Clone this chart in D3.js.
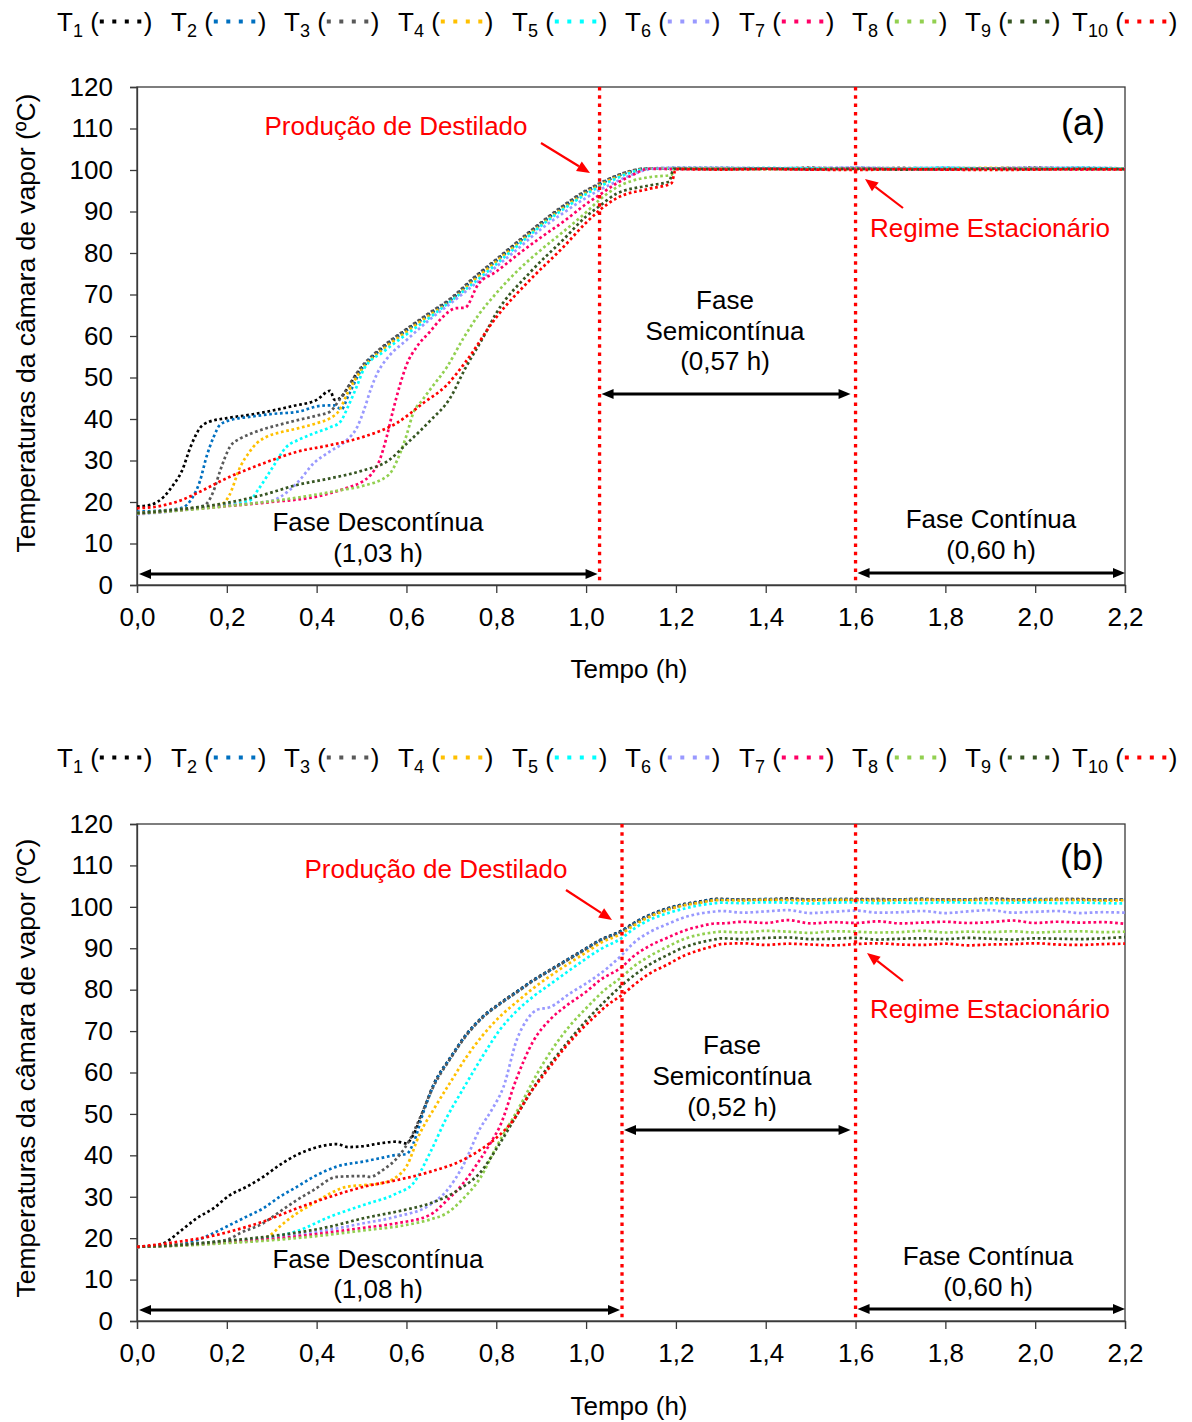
<!DOCTYPE html>
<html>
<head>
<meta charset="utf-8">
<script src="https://cdn.jsdelivr.net/npm/d3@7"></script>
<style>
  body { margin: 0; background: #fff; }
  text { font-family: "Liberation Sans", Arial, sans-serif; fill: #000; }
</style>
</head>
<body>
<svg id="chart" width="1192" height="1422"></svg>
<script>
// ---------- series identity ----------
const seriesSubs = ["1", "2", "3", "4", "5", "6", "7", "8", "9", "10"];
const seriesColors = ["#000000", "#0070C0", "#595959", "#FFC000", "#00FFFF",
                      "#9999FF", "#FF0066", "#92D050", "#375623", "#FF0000"];

// ---------- axis ticks ----------
const xTicks = [0, 0.2, 0.4, 0.6, 0.8, 1.0, 1.2, 1.4, 1.6, 1.8, 2.0, 2.2];
const yTicks = [0, 10, 20, 30, 40, 50, 60, 70, 80, 90, 100, 110, 120];

// ---------- run (a): heating ramp [time (h), temperature (ºC)] ----------
const a_T1 = [[0,18.9],[0.03,19.3],[0.06,21.3],[0.08,24],[0.1,27.5],[0.12,33.5],[0.14,37.8],[0.16,39.3],[0.2,40.2],[0.25,41],[0.3,42],[0.35,43.2],[0.4,44.6],[0.43,46.8],[0.44,44.6],[0.452,45],[0.465,46.8],[0.49,51],[0.52,54.5],[0.55,57.5],[0.6,61.5],[0.65,65.3],[0.7,69],[0.75,73.9],[0.8,78.3],[0.85,82.8],[0.9,87.2],[0.95,91.3],[1.0,94.9],[1.03,96.6],[1.06,98.2],[1.1,99.7],[1.13,100.3],[1.2,100.4]];
const a_T2 = [[0,17.7],[0.05,17.9],[0.1,18.6],[0.12,20.5],[0.14,25],[0.155,31],[0.17,35.5],[0.185,38.6],[0.21,39.8],[0.25,40.5],[0.3,41.2],[0.36,41.8],[0.41,43.2],[0.44,43.3],[0.455,42.3],[0.47,45.5],[0.5,52],[0.55,57.3],[0.6,61.3],[0.65,65.1],[0.7,68.8],[0.75,73.7],[0.8,78.1],[0.85,82.6],[0.9,87],[0.95,91.1],[1.0,94.7],[1.03,96.5],[1.06,98.1],[1.1,99.6],[1.13,100.3],[1.2,100.5]];
const a_T3 = [[0,17.3],[0.05,17.6],[0.1,18.2],[0.15,19.2],[0.17,22.5],[0.185,27.5],[0.207,33.3],[0.23,35.3],[0.25,36.3],[0.28,37.5],[0.32,38.7],[0.36,39.8],[0.4,40.8],[0.43,41.8],[0.45,44.5],[0.5,52.6],[0.55,57.7],[0.6,61.7],[0.65,65.5],[0.7,69.2],[0.75,74.1],[0.8,78.5],[0.85,83],[0.9,87.4],[0.95,91.5],[1.0,95.1],[1.03,96.8],[1.06,98.3],[1.1,99.8],[1.13,100.3],[1.2,100.3]];
const a_T4 = [[0,17.3],[0.1,18.3],[0.19,19.5],[0.205,21.5],[0.23,28.5],[0.25,32],[0.266,34.1],[0.29,35.8],[0.32,36.8],[0.36,37.8],[0.4,39],[0.43,40.2],[0.45,42],[0.47,46.5],[0.5,51.8],[0.55,57],[0.6,61],[0.65,64.9],[0.7,68.5],[0.75,73.4],[0.8,77.9],[0.85,82.4],[0.9,86.8],[0.95,90.9],[1.0,94.5],[1.03,96.3],[1.06,97.9],[1.1,99.5],[1.14,100.3],[1.2,100.4]];
const a_T5 = [[0,17.2],[0.1,18.2],[0.2,19.3],[0.25,20.3],[0.27,23],[0.3,28],[0.333,33.3],[0.36,35],[0.393,36.5],[0.43,38],[0.452,39.2],[0.47,43],[0.49,48],[0.505,52],[0.55,56.3],[0.6,60.4],[0.65,64.3],[0.7,68.5],[0.75,72.8],[0.8,77.3],[0.85,82],[0.9,86.6],[0.95,90.6],[1.0,94.2],[1.03,96],[1.06,97.6],[1.1,99.4],[1.14,100.3],[1.2,100.3]];
const a_T6 = [[0,17],[0.1,18],[0.2,19.2],[0.3,20.3],[0.32,21.3],[0.36,25],[0.393,29.3],[0.43,32.2],[0.467,34.9],[0.49,38],[0.505,42],[0.52,47],[0.535,51],[0.56,55],[0.6,59],[0.65,63.8],[0.7,68],[0.75,72.3],[0.8,76.7],[0.85,81.2],[0.9,85.8],[0.95,89.7],[1.0,93.3],[1.03,95.2],[1.06,96.8],[1.1,98.8],[1.15,100.3],[1.2,100.5]];
const a_T7 = [[0,17.2],[0.1,18.1],[0.2,19],[0.3,20],[0.4,21.3],[0.43,22.1],[0.47,23.5],[0.5,24.8],[0.52,26.5],[0.54,30],[0.556,35.7],[0.57,42],[0.585,48],[0.6,53],[0.623,57.4],[0.652,61],[0.68,64.5],[0.71,66.7],[0.73,66.8],[0.76,72.5],[0.8,75.5],[0.85,79.8],[0.9,83.8],[0.95,87.6],[1.0,91.8],[1.03,94],[1.068,96.8],[1.1,98.6],[1.14,100.3],[1.2,100.2]];
const a_T8 = [[0,17.2],[0.1,18],[0.2,19],[0.3,20.2],[0.4,21.8],[0.45,22.8],[0.5,23.8],[0.56,26.5],[0.585,31.5],[0.6,36],[0.615,41.4],[0.635,44.5],[0.652,47],[0.69,52.5],[0.727,59.5],[0.76,65],[0.8,70.3],[0.85,76],[0.9,80.8],[0.95,85.2],[1.0,89.8],[1.03,92.8],[1.068,95.8],[1.1,97.3],[1.142,98.3],[1.19,98.8],[1.198,100.3]];
const a_T9 = [[0,17.3],[0.1,18.3],[0.2,19.8],[0.28,21.7],[0.356,24.1],[0.43,25.7],[0.5,27.5],[0.56,30],[0.6,34],[0.652,39.5],[0.697,45],[0.73,52],[0.77,59.5],[0.8,65.5],[0.875,75.3],[0.95,83.3],[1.0,88.8],[1.03,91.3],[1.068,94.3],[1.142,96.3],[1.185,97.2],[1.195,100.3]];
const a_T10 = [[0,18.5],[0.05,19],[0.1,20.5],[0.133,22.1],[0.207,26.1],[0.281,29.3],[0.356,32.1],[0.43,33.7],[0.504,35.7],[0.578,39],[0.637,43.8],[0.69,48.2],[0.73,53.5],[0.8,64.5],[0.875,73.5],[0.95,81.5],[1.0,87.3],[1.03,90.3],[1.068,93.2],[1.142,95.5],[1.19,96.8],[1.2,100.2]];

// ---------- run (a): steady readings ----------
const plateauTimesA = [1.3, 1.4, 1.5, 1.6, 1.7, 1.8, 1.9, 2.0, 2.1, 2.2];
const ap_T1 = [100.4,100.3,100.5,100.3,100.4,100.3,100.4,100.5,100.3,100.4];
const ap_T2 = [100.5,100.4,100.3,100.5,100.4,100.5,100.3,100.4,100.5,100.4];
const ap_T3 = [100.3,100.4,100.4,100.3,100.5,100.3,100.4,100.3,100.4,100.3];
const ap_T4 = [100.4,100.3,100.4,100.4,100.3,100.4,100.5,100.3,100.4,100.4];
const ap_T5 = [100.3,100.5,100.4,100.3,100.4,100.5,100.4,100.3,100.5,100.3];
const ap_T6 = [100.5,100.4,100.5,100.6,100.4,100.5,100.4,100.6,100.5,100.4];
const ap_T7 = [100.2,100.3,100.1,100.3,100.2,100.1,100.3,100.2,100.1,100.2];
const ap_T8 = [100.3,100.2,100.3,100.2,100.3,100.3,100.2,100.3,100.2,100.3];
const ap_T9 = [100.2,100.3,100.2,100.3,100.1,100.2,100.3,100.2,100.3,100.2];
const ap_T10 = [100.1,100.2,100.1,100.0,100.2,100.1,100.0,100.1,100.2,100.1];

// ---------- run (b): heating ramp [time (h), temperature (ºC)] ----------
const b_T1 = [[0,17.9],[0.03,18],[0.06,18.8],[0.1,22],[0.133,24.8],[0.17,27.2],[0.207,30.4],[0.244,32.4],[0.281,34.8],[0.318,37.7],[0.356,40.1],[0.393,41.7],[0.445,42.7],[0.47,42],[0.504,42.2],[0.541,42.9],[0.578,43.3],[0.6,42.9],[0.615,44.9],[0.638,50.9],[0.66,57],[0.697,63.5],[0.734,69.3],[0.77,73.5],[0.808,76.7],[0.845,79.5],[0.882,82.3],[0.92,84.8],[0.957,87.2],[1.0,90],[1.031,92],[1.08,94.3],[1.105,96],[1.14,98],[1.18,99.6],[1.22,100.7],[1.254,101.3],[1.29,101.9]];
const b_T2 = [[0,17.9],[0.1,18.6],[0.15,20.2],[0.17,21.2],[0.207,23.2],[0.244,25.2],[0.281,27.2],[0.318,30],[0.356,32.4],[0.393,34.8],[0.445,37.3],[0.504,38.5],[0.541,39.3],[0.578,40.1],[0.6,40.3],[0.615,42.8],[0.638,50.5],[0.66,56.8],[0.697,63.4],[0.734,69.2],[0.77,73.4],[0.808,76.6],[0.845,79.4],[0.882,82.2],[0.92,84.7],[0.957,87.1],[1.0,89.9],[1.031,91.9],[1.08,94.2],[1.105,95.9],[1.14,97.9],[1.18,99.5],[1.22,100.6],[1.254,101.2],[1.29,101.8]];
const b_T3 = [[0,17.9],[0.1,18.5],[0.2,19.6],[0.229,21.2],[0.281,23.6],[0.318,26.4],[0.356,29.2],[0.393,31.6],[0.445,34.8],[0.504,35],[0.519,34.8],[0.548,36.5],[0.585,40.1],[0.607,43.7],[0.63,49],[0.66,56.6],[0.697,63.2],[0.734,69],[0.77,73.3],[0.808,76.5],[0.845,79.3],[0.882,82.1],[0.92,84.6],[0.957,87],[1.0,89.8],[1.031,91.8],[1.08,94.1],[1.105,95.8],[1.14,97.8],[1.18,99.4],[1.22,100.5],[1.254,101.1],[1.29,101.7]];
const b_T4 = [[0,17.9],[0.1,18.4],[0.2,19.2],[0.281,19.9],[0.3,21],[0.318,22.8],[0.356,26],[0.393,28.4],[0.43,30.8],[0.467,32.4],[0.504,32.8],[0.541,33.2],[0.578,34.8],[0.6,37.3],[0.63,45.3],[0.66,51],[0.697,57.5],[0.734,63.8],[0.77,69],[0.808,73.5],[0.845,77],[0.882,80.3],[0.92,83.3],[0.957,86],[1.0,89],[1.031,91.2],[1.08,93.6],[1.105,95.4],[1.14,97.5],[1.18,99.2],[1.22,100.4],[1.254,101],[1.29,101.6]];
const b_T5 = [[0,17.9],[0.1,18.4],[0.2,19.2],[0.3,20.2],[0.356,21.7],[0.43,25.2],[0.504,28],[0.578,30.8],[0.615,33.2],[0.652,40.5],[0.689,49],[0.726,56],[0.77,64],[0.808,70.3],[0.845,74.8],[0.882,78.3],[0.92,81.3],[0.957,84.2],[1.0,87.5],[1.031,89.7],[1.08,92.5],[1.105,94.6],[1.14,96.8],[1.18,98.4],[1.22,99.6],[1.254,100.4],[1.29,100.9]];
const b_T6 = [[0,17.9],[0.1,18.3],[0.2,19],[0.3,20],[0.4,21.5],[0.504,23.6],[0.578,25.2],[0.652,28],[0.69,31.5],[0.726,37.5],[0.764,46.5],[0.79,51],[0.816,56.5],[0.846,68],[0.87,73],[0.89,75.1],[0.92,75.8],[0.964,79.1],[1.0,81.5],[1.045,85],[1.08,88.4],[1.105,91.2],[1.14,93.8],[1.18,95.8],[1.22,97.5],[1.254,98.4],[1.29,98.9]];
const b_T7 = [[0,17.9],[0.1,18.3],[0.2,19],[0.3,19.8],[0.4,21],[0.504,22.5],[0.578,23.6],[0.652,25.6],[0.689,29],[0.726,33.2],[0.764,39],[0.79,43.5],[0.808,47],[0.845,58.5],[0.882,67.5],[0.92,72.8],[0.957,76.2],[1.0,79.5],[1.031,82.3],[1.08,85.5],[1.105,88],[1.14,90.5],[1.18,92.5],[1.22,94.3],[1.254,95.3],[1.29,96]];
const b_T8 = [[0,17.9],[0.1,18.2],[0.2,18.8],[0.3,19.5],[0.4,20.5],[0.5,21.8],[0.6,23.2],[0.652,24.5],[0.689,26],[0.726,29.5],[0.764,34.5],[0.8,42],[0.853,52],[0.89,59.5],[0.927,66],[0.964,71.3],[1.0,75.5],[1.04,79.8],[1.08,83.1],[1.105,85.5],[1.14,88],[1.18,90.3],[1.22,92.3],[1.254,93.3],[1.29,93.9]];
const b_T9 = [[0,17.9],[0.1,18.4],[0.2,19.4],[0.3,20.5],[0.43,22.8],[0.504,24.8],[0.578,26.4],[0.652,28.4],[0.689,30],[0.726,32.4],[0.764,35.8],[0.8,41.5],[0.85,50.5],[0.89,57.5],[0.927,63],[0.964,68],[1.0,72.5],[1.04,77],[1.08,81.1],[1.105,83.3],[1.14,86],[1.18,88.3],[1.22,90.3],[1.254,91.4],[1.29,92.2]];
const b_T10 = [[0,17.9],[0.096,19.2],[0.17,20.6],[0.207,21.6],[0.281,24],[0.356,27.2],[0.43,30],[0.504,32.4],[0.578,34],[0.652,36],[0.726,38.9],[0.764,41.3],[0.801,44.3],[0.838,48.5],[0.875,55],[0.912,60.3],[0.949,65.5],[0.986,70],[1.024,74],[1.05,76.5],[1.08,78.7],[1.105,81],[1.14,83.8],[1.18,86],[1.22,88.3],[1.254,89.6],[1.29,90.7]];

// ---------- run (b): steady readings ----------
const plateauTimesB = [1.3,1.35,1.4,1.45,1.5,1.55,1.6,1.65,1.7,1.75,1.8,1.85,1.9,1.95,2.0,2.05,2.1,2.15,2.2];
const bp_T1 = [101.9,101.7,101.8,102.0,101.7,101.8,101.9,101.6,101.8,101.9,101.7,101.8,102.0,101.8,101.7,101.9,101.8,101.7,101.8];
const bp_T2 = [101.8,101.7,101.9,101.8,101.7,101.9,101.8,101.7,101.8,101.9,101.7,101.8,101.8,101.7,101.9,101.8,101.7,101.8,101.7];
const bp_T3 = [101.7,101.8,101.7,101.9,101.8,101.6,101.8,101.9,101.7,101.8,101.8,101.7,101.9,101.8,101.6,101.8,101.9,101.7,101.8];
const bp_T4 = [101.6,101.5,101.7,101.6,101.5,101.7,101.6,101.5,101.6,101.7,101.5,101.6,101.7,101.5,101.6,101.7,101.6,101.5,101.6];
const bp_T5 = [101.0,100.9,101.1,101.0,100.8,101.0,101.1,100.9,101.0,100.9,101.1,101.0,100.9,101.0,101.1,100.9,101.0,100.9,100.8];
const bp_T6 = [99.0,98.6,98.9,99.2,98.5,98.8,99.1,98.6,98.7,99.0,98.5,98.9,99.2,98.6,98.8,99.0,98.5,98.7,98.6];
const bp_T7 = [96.0,96.4,96.1,96.8,96.0,96.3,96.1,96.5,96.0,96.2,96.4,96.1,96.3,96.7,96.1,96.4,96.2,96.3,95.9];
const bp_T8 = [94.0,93.8,94.2,94.0,93.7,94.1,94.0,93.8,93.9,94.2,93.8,94.0,93.9,94.1,93.8,94.0,94.1,93.9,94.0];
const bp_T9 = [92.4,92.2,92.5,92.6,92.2,92.3,92.5,92.1,92.3,92.4,92.2,92.5,92.3,92.1,92.4,92.3,92.2,92.4,92.7];
const bp_T10 = [91.0,91.2,90.8,91.1,90.9,90.7,91.0,91.2,90.9,90.8,91.1,90.7,90.9,91.0,91.2,90.9,90.8,91.0,91.1];

// ---------- phase boundaries (h) and labels ----------
const phaseA = { stop: 1.03, steady: 1.6, desc: "(1,03 h)", semi: "(0,57 h)", cont: "(0,60 h)" };
const phaseB = { stop: 1.08, steady: 1.6, desc: "(1,08 h)", semi: "(0,52 h)", cont: "(0,60 h)" };

// ramp + steady readings joined into one trace per thermocouple
function joinRun(rises, times, steady) {
  return rises.map((rise, i) => rise.concat(times.map((t, k) => [t, steady[i][k]])));
}
const seriesA = joinRun([a_T1, a_T2, a_T3, a_T4, a_T5, a_T6, a_T7, a_T8, a_T9, a_T10], plateauTimesA,
  [ap_T1, ap_T2, ap_T3, ap_T4, ap_T5, ap_T6, ap_T7, ap_T8, ap_T9, ap_T10]);
const seriesB = joinRun([b_T1, b_T2, b_T3, b_T4, b_T5, b_T6, b_T7, b_T8, b_T9, b_T10], plateauTimesB,
  [bp_T1, bp_T2, bp_T3, bp_T4, bp_T5, bp_T6, bp_T7, bp_T8, bp_T9, bp_T10]);

// ---------- layout ----------
const FS = 26;
const panels = [
  { tag: "(a)", series: seriesA, phase: phaseA, top: 87, bottom: 585, legendBase: 31,
    tagPos: [1083, 122], yTitleY: 323, xTitleY: 669,
    prod: { x: 396, y: 126, arrow: [541, 143, 590, 173] },
    regime: { x: 990, y: 228, arrow: [903, 208, 865, 179] },
    semi: { x: 725, ys: [300, 331, 361], arrowY: 394 },
    desc: { x: 378, ys: [522, 553] }, cont: { x: 991, ys: [519, 550] }, arrowY: 574 },
  { tag: "(b)", series: seriesB, phase: phaseB, top: 824, bottom: 1321, legendBase: 767,
    tagPos: [1082, 857], yTitleY: 1068, xTitleY: 1406,
    prod: { x: 436, y: 869, arrow: [566, 890, 612, 920] },
    regime: { x: 990, y: 1009, arrow: [903, 981, 867, 953] },
    semi: { x: 732, ys: [1045, 1076, 1107], arrowY: 1130 },
    desc: { x: 378, ys: [1259, 1289] }, cont: { x: 988, ys: [1256, 1287] }, arrowY: 1310 }
];
const legendXs = [57, 171, 284, 398, 512, 625, 739, 852, 965, 1072];
const plotLeft = 137, plotRight = 1125;

const svg = d3.select("#chart");
const fmtX = d => d3.format(".1f")(d).replace(".", ",");

function label(g, x, y, txt, opts = {}) {
  return g.append("text")
    .attr("x", x).attr("y", y).attr("dy", "0.35em")
    .attr("text-anchor", opts.anchor || "middle")
    .style("font-size", (opts.size || FS) + "px")
    .style("fill", opts.fill || "#000")
    .text(txt);
}

function doubleArrow(g, x1, x2, y) {
  const hl = 12, hw = 5;
  g.append("line").attr("x1", x1 + hl - 1).attr("x2", x2 - hl + 1)
    .attr("y1", y).attr("y2", y).attr("stroke", "#000").attr("stroke-width", 3);
  g.append("path").attr("d", `M${x1},${y}L${x1 + hl},${y - hw}L${x1 + hl},${y + hw}Z`).attr("fill", "#000");
  g.append("path").attr("d", `M${x2},${y}L${x2 - hl},${y - hw}L${x2 - hl},${y + hw}Z`).attr("fill", "#000");
}

function pointer(g, [x1, y1, x2, y2]) {
  const ang = Math.atan2(y2 - y1, x2 - x1), hl = 13, hw = 5.5;
  const bx = x2 - hl * Math.cos(ang), by = y2 - hl * Math.sin(ang);
  g.append("line").attr("x1", x1).attr("y1", y1).attr("x2", bx).attr("y2", by)
    .attr("stroke", "#FF0000").attr("stroke-width", 2.2);
  const px = -Math.sin(ang) * hw, py = Math.cos(ang) * hw;
  g.append("path").attr("d", `M${x2},${y2}L${bx + px},${by + py}L${bx - px},${by - py}Z`).attr("fill", "#FF0000");
}

function legend(g, base) {
  seriesSubs.forEach((s, i) => {
    const t = g.append("text").attr("x", legendXs[i]).attr("y", base).style("font-size", FS + "px");
    t.append("tspan").text("T");
    t.append("tspan").attr("dy", 6).style("font-size", "18px").text(s);
    t.append("tspan").attr("dy", -6).text("\u00a0(");
    const w = t.node().getComputedTextLength();
    const x0 = legendXs[i] + w + 1;
    g.append("line").attr("x1", x0).attr("x2", x0 + 41.5)
      .attr("y1", base - 9.5).attr("y2", base - 9.5)
      .attr("stroke", seriesColors[i]).attr("stroke-width", 3.8)
      .attr("stroke-dasharray", "4 8.5");
    g.append("text").attr("x", x0 + 44).attr("y", base).style("font-size", FS + "px").text(")");
  });
}

panels.forEach(p => {
  const g = svg.append("g");
  const x = d3.scaleLinear().domain([0, 2.2]).range([plotLeft, plotRight]);
  const y = d3.scaleLinear().domain([0, 120]).range([p.bottom, p.top]);

  legend(g, p.legendBase);

  // plot frame
  g.append("rect").attr("x", plotLeft).attr("y", p.top)
    .attr("width", plotRight - plotLeft).attr("height", p.bottom - p.top)
    .attr("fill", "none").attr("stroke", "#3a3a3a").attr("stroke-width", 1.3);

  const xAxis = g.append("g").attr("transform", `translate(0,${p.bottom})`)
    .call(d3.axisBottom(x).tickValues(xTicks).tickFormat(fmtX).tickSize(8).tickPadding(15));
  const yAxis = g.append("g").attr("transform", `translate(${plotLeft},0)`)
    .call(d3.axisLeft(y).tickValues(yTicks).tickSize(7).tickPadding(17));
  [xAxis, yAxis].forEach(a => {
    a.selectAll("path, line").attr("stroke", "#3a3a3a").attr("stroke-width", 1.3);
    a.selectAll("text").style("font-size", FS + "px").style("fill", "#000")
      .style("font-family", '"Liberation Sans", Arial, sans-serif');
  });

  // axis titles
  label(g, (plotLeft + plotRight) / 2 - 2, p.xTitleY, "Tempo (h)");
  g.append("text").attr("transform", `translate(26,${p.yTitleY}) rotate(-90)`)
    .attr("dy", "0.35em").attr("text-anchor", "middle").style("font-size", "26.5px")
    .text("Temperaturas da câmara de vapor (ºC)");

  // temperature traces
  const line = d3.line().x(d => x(d[0])).y(d => y(d[1])).curve(d3.curveMonotoneX);
  p.series.forEach((s, i) => {
    g.append("path").datum(s).attr("d", line)
      .attr("fill", "none").attr("stroke", seriesColors[i])
      .attr("stroke-width", 2.7).attr("stroke-dasharray", "2.7 2.7");
  });

  // phase boundaries
  [p.phase.stop, p.phase.steady].forEach(t => {
    g.append("line").attr("x1", x(t)).attr("x2", x(t))
      .attr("y1", p.top).attr("y2", p.bottom)
      .attr("stroke", "#FF0000").attr("stroke-width", 3.3).attr("stroke-dasharray", "3.5 4.8");
  });

  // phase spans
  doubleArrow(g, x(0) + 2, x(p.phase.stop) - 2, p.arrowY);
  doubleArrow(g, x(p.phase.stop) + 2, x(p.phase.steady) - 5, p.semi.arrowY);
  doubleArrow(g, x(p.phase.steady) + 2, x(2.2), p.arrowY - 1);

  label(g, p.desc.x, p.desc.ys[0], "Fase Descontínua");
  label(g, p.desc.x, p.desc.ys[1], p.phase.desc);
  label(g, p.semi.x, p.semi.ys[0], "Fase");
  label(g, p.semi.x, p.semi.ys[1], "Semicontínua");
  label(g, p.semi.x, p.semi.ys[2], p.phase.semi);
  label(g, p.cont.x, p.cont.ys[0], "Fase Contínua");
  label(g, p.cont.x, p.cont.ys[1], p.phase.cont);

  // event callouts
  label(g, p.prod.x, p.prod.y, "Produção de Destilado", { fill: "#FF0000" });
  pointer(g, p.prod.arrow);
  label(g, p.regime.x, p.regime.y, "Regime Estacionário", { fill: "#FF0000" });
  pointer(g, p.regime.arrow);

  label(g, p.tagPos[0], p.tagPos[1], p.tag, { size: 36 });
});
</script>
</body>
</html>
